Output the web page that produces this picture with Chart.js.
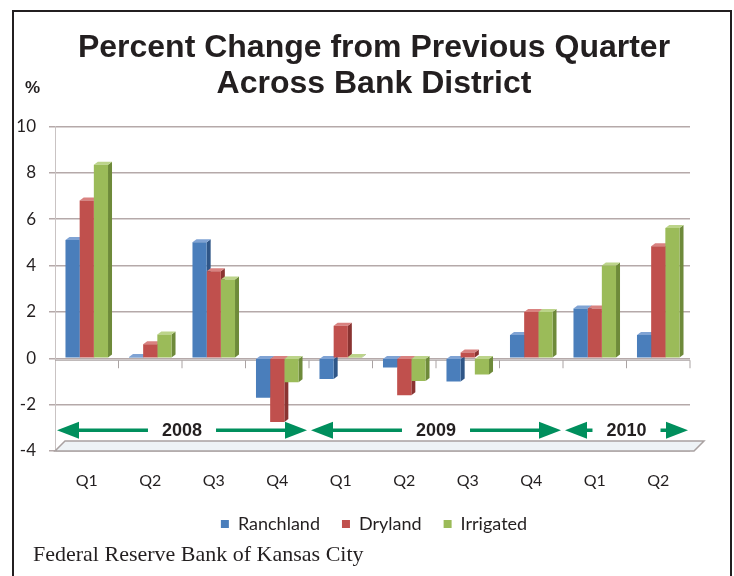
<!DOCTYPE html>
<html>
<head>
<meta charset="utf-8">
<script src="https://cdn.jsdelivr.net/npm/chart.js@4"></script>
<style>
  body { margin: 0; background: #fff; }
  #wrap { position: relative; width: 734px; height: 576px; overflow: hidden; }
  #frame { position: absolute; left: 12px; top: 10px; width: 716px; height: 600px; border: 2px solid #231f20; }
  #pct { position: absolute; left: 25px; top: 78px; font: bold 17px "Liberation Sans", Arial, sans-serif; color: #231f20; }
  #source { position: absolute; left: 33px; top: 541px; font: 22px "Liberation Serif", "Times New Roman", serif; color: #231f20; }
  canvas { position: absolute; left: 0; top: 0; }
</style>
</head>
<body>
<div id="wrap">
  <div id="frame"></div>
  <canvas id="chart" width="734" height="576"></canvas>
  <div id="pct">%</div>
  <div id="source">Federal Reserve Bank of Kansas City</div>
</div>
<script>
const quarters = ['Q1', 'Q2', 'Q3', 'Q4', 'Q1', 'Q2', 'Q3', 'Q4', 'Q1', 'Q2'];
const ranchland = [5.1, 0.05, 5.0, -1.7, -0.9, -0.4, -1.0, 1.0, 2.15, 1.0];
const dryland = [6.8, 0.6, 3.75, -2.75, 1.4, -1.6, 0.25, 2.0, 2.15, 4.83];
const irrigated = [8.35, 1.03, 3.4, -1.03, 0.05, -0.98, -0.7, 2.0, 4.0, 5.62];
const yTicks = [-4, -2, 0, 2, 4, 6, 8, 10];

// year brackets: first and last quarter index of each year
const years = ['2008', '2009', '2010'];
const yearStart = [0, 4, 8];
const yearEnd = [3, 7, 9];

const frontColors = ['#4a7ebb', '#c0504d', '#9bbb59'];
const sideColors = ['#2f5687', '#8a3432', '#6e8a3a'];
const topColors = ['#7fa3d4', '#d98280', '#bcd48a'];
const arrowGreen = '#008f5d';

// floor + axis line at zero with tick marks
const floorAxis = {
  id: 'floorAxis',
  beforeDatasetsDraw(chart) {
    const { ctx, chartArea, scales: { x, y } } = chart;
    const half = x.width / quarters.length / 2;
    const yb = y.getPixelForValue(-4);
    ctx.save();
    ctx.fillStyle = '#eef3f6';
    ctx.strokeStyle = '#a9a1a1';
    ctx.lineWidth = 1.5;
    ctx.beginPath();
    ctx.moveTo(chartArea.left, yb);
    ctx.lineTo(chartArea.right + 4, yb);
    ctx.lineTo(chartArea.right + 14, yb - 10);
    ctx.lineTo(chartArea.left + 10, yb - 10);
    ctx.closePath();
    ctx.fill();
    ctx.stroke();

    const y0 = y.getPixelForValue(0);
    ctx.strokeStyle = '#aaa3a3';
    ctx.lineWidth = 1;
    ctx.beginPath();
    ctx.moveTo(chartArea.left, y0 + 2);
    ctx.lineTo(chartArea.right, y0 + 2);
    for (let i = 0; i < quarters.length; i++) {
      const tx = x.getPixelForValue(i) + half;
      ctx.moveTo(tx, y0 + 2);
      ctx.lineTo(tx, y0 + 10);
    }
    ctx.stroke();
    ctx.restore();
  }
};

// side and top faces, drawn behind the fronts so neighbours hide them
const bar3d = {
  id: 'bar3d',
  beforeDatasetsDraw(chart) {
    const ctx = chart.ctx;
    const dx = 4, dy = 3;
    ctx.save();
    chart.data.datasets.forEach((ds, i) => {
      chart.getDatasetMeta(i).data.forEach(bar => {
        const p = bar.getProps(['x', 'y', 'base', 'width'], true);
        const l = p.x - p.width / 2, r = p.x + p.width / 2;
        const t = Math.min(p.y, p.base), b = Math.max(p.y, p.base);
        ctx.fillStyle = sideColors[i];
        ctx.beginPath();
        ctx.moveTo(r, t); ctx.lineTo(r + dx, t - dy); ctx.lineTo(r + dx, b - dy); ctx.lineTo(r, b);
        ctx.closePath(); ctx.fill();
        ctx.fillStyle = topColors[i];
        ctx.beginPath();
        ctx.moveTo(l, t); ctx.lineTo(l + dx, t - dy); ctx.lineTo(r + dx, t - dy); ctx.lineTo(r, t);
        ctx.closePath(); ctx.fill();
      });
    });
    ctx.restore();
  }
};

const yearArrows = {
  id: 'yearArrows',
  afterDatasetsDraw(chart) {
    const { ctx, scales: { x, y } } = chart;
    const half = x.width / quarters.length / 2;
    const ay = y.getPixelForValue(-3.1);
    const head = 22, hh = 8.5;
    ctx.save();
    ctx.font = 'bold 18px "Liberation Sans", Arial, sans-serif';
    ctx.textAlign = 'center';
    ctx.textBaseline = 'middle';
    years.forEach((label, k) => {
      const x0 = x.getPixelForValue(yearStart[k]) - half + 2;
      const x1 = x.getPixelForValue(yearEnd[k]) + half - 2;
      const cx = (x0 + x1) / 2;
      const gap = ctx.measureText(label).width / 2 + 14;
      ctx.strokeStyle = arrowGreen;
      ctx.lineWidth = 3.5;
      ctx.beginPath();
      ctx.moveTo(x0 + head - 1, ay); ctx.lineTo(cx - gap, ay);
      ctx.moveTo(cx + gap, ay); ctx.lineTo(x1 - head + 1, ay);
      ctx.stroke();
      ctx.fillStyle = arrowGreen;
      ctx.beginPath();
      ctx.moveTo(x0, ay); ctx.lineTo(x0 + head, ay - hh); ctx.lineTo(x0 + head, ay + hh);
      ctx.closePath(); ctx.fill();
      ctx.beginPath();
      ctx.moveTo(x1, ay); ctx.lineTo(x1 - head, ay - hh); ctx.lineTo(x1 - head, ay + hh);
      ctx.closePath(); ctx.fill();
      ctx.fillStyle = '#231f20';
      ctx.fillText(label, cx, ay + 1);
    });
    ctx.restore();
  }
};

const ctx = document.getElementById('chart').getContext('2d');
new Chart(ctx, {
  type: 'bar',
  data: {
    labels: quarters,
    datasets: [
      { label: 'Ranchland', data: ranchland, backgroundColor: frontColors[0] },
      { label: 'Dryland', data: dryland, backgroundColor: frontColors[1] },
      { label: 'Irrigated', data: irrigated, backgroundColor: frontColors[2] }
    ]
  },
  options: {
    responsive: false,
    animation: false,
    categoryPercentage: 0.67,
    barPercentage: 1.0,
    layout: { padding: { left: 14, right: 0, top: 0, bottom: 33 } },
    plugins: {
      title: {
        display: true,
        text: ['Percent Change from Previous Quarter', 'Across Bank District'],
        color: '#231f20',
        font: { family: '"Liberation Sans", Arial, sans-serif', size: 32, weight: 'bold', lineHeight: 1.1 },
        padding: { top: 31, bottom: 25 }
      },
      legend: {
        position: 'bottom',
        labels: {
          boxWidth: 8,
          boxHeight: 8,
          padding: 22,
          color: '#231f20',
          font: { family: 'Lato, "Open Sans", sans-serif', size: 18 }
        }
      },
      tooltip: { enabled: false }
    },
    scales: {
      x: {
        grid: { display: false },
        border: { display: false },
        ticks: { color: '#231f20', padding: 12, font: { family: 'Lato, "Open Sans", sans-serif', size: 16 } },
        afterFit(s) { s.height = 42; }
      },
      y: {
        min: -4,
        max: 10,
        afterBuildTicks(s) { s.ticks = yTicks.map(v => ({ value: v })); },
        grid: { color: '#b5a9a9', lineWidth: 1.5, drawTicks: true, tickLength: 6 },
        border: { display: true, color: '#c9c3c3' },
        ticks: { color: '#231f20', padding: 13, font: { family: 'Lato, "Open Sans", sans-serif', size: 17 } },
        afterFit(s) { s.width = 41; }
      },
      yRight: {
        position: 'right',
        display: true,
        grid: { display: false },
        border: { display: false },
        ticks: { display: false },
        afterFit(s) { s.width = 44; }
      }
    }
  },
  plugins: [floorAxis, bar3d, yearArrows]
});
</script>
</body>
</html>
